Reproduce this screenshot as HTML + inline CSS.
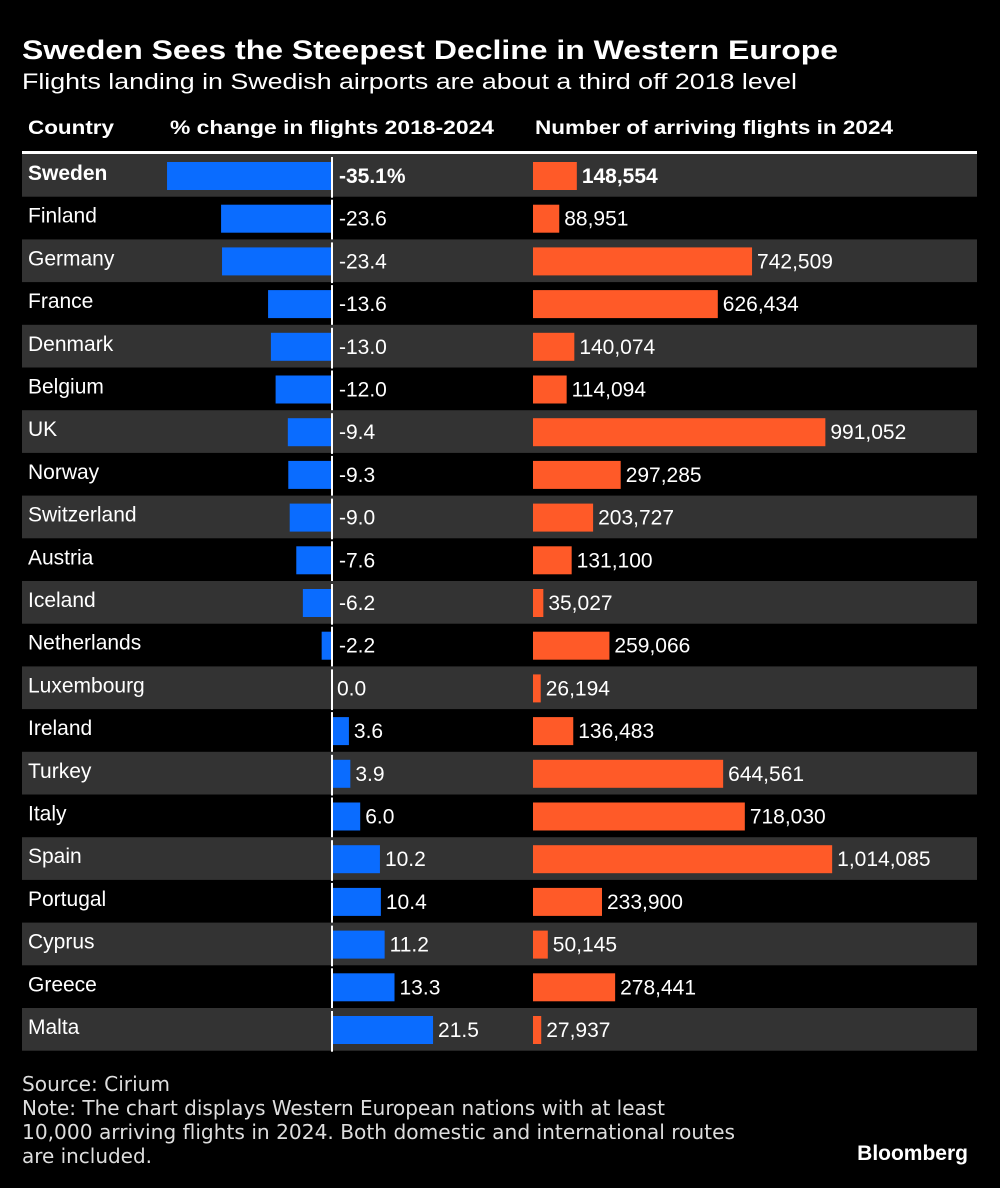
<!DOCTYPE html>
<html><head><meta charset="utf-8"><style>
body{margin:0;background:#000;width:1000px;height:1188px;overflow:hidden;font-family:"Liberation Sans",sans-serif;color:#fff}
svg{position:absolute;left:0;top:0}
</style></head><body>
<svg width="1000" height="1188">
<text x="22" y="59" font-size="27" font-weight="bold" fill="#fff" textLength="816" lengthAdjust="spacingAndGlyphs">Sweden Sees the Steepest Decline in Western Europe</text>
<text x="22" y="89" font-size="22" fill="#fff" textLength="775" lengthAdjust="spacingAndGlyphs">Flights landing in Swedish airports are about a third off 2018 level</text>
<text x="28" y="134" font-size="19" font-weight="bold" fill="#fff" textLength="86" lengthAdjust="spacingAndGlyphs">Country</text>
<text x="170" y="134" font-size="19" font-weight="bold" fill="#fff" textLength="324" lengthAdjust="spacingAndGlyphs">% change in flights 2018-2024</text>
<text x="535" y="134" font-size="19" font-weight="bold" fill="#fff" textLength="358" lengthAdjust="spacingAndGlyphs">Number of arriving flights in 2024</text>
<rect x="22" y="151" width="955" height="3" fill="#fff"/>
<g id="rows"></g>
<text x="22" y="1091" font-size="20" fill="#ddd" textLength="148" lengthAdjust="spacingAndGlyphs" font-family="'DejaVu Sans Condensed','DejaVu Sans',sans-serif">Source: Cirium</text>
<text x="22" y="1115" font-size="20" fill="#ddd" textLength="643" lengthAdjust="spacingAndGlyphs" font-family="'DejaVu Sans Condensed','DejaVu Sans',sans-serif">Note: The chart displays Western European nations with at least</text>
<text x="22" y="1139" font-size="20" fill="#ddd" textLength="713" lengthAdjust="spacingAndGlyphs" font-family="'DejaVu Sans Condensed','DejaVu Sans',sans-serif">10,000 arriving flights in 2024. Both domestic and international routes</text>
<text x="22" y="1163" font-size="20" fill="#ddd" textLength="130" lengthAdjust="spacingAndGlyphs" font-family="'DejaVu Sans Condensed','DejaVu Sans',sans-serif">are included.</text>
<text x="968" y="1160" font-size="21" font-weight="bold" fill="#fff" text-anchor="end">Bloomberg</text>
</svg>
<script>
const countries=["Sweden","Finland","Germany","France","Denmark","Belgium","UK","Norway","Switzerland","Austria","Iceland","Netherlands","Luxembourg","Ireland","Turkey","Italy","Spain","Portugal","Cyprus","Greece","Malta"];
const pctChange=[-35.1,-23.6,-23.4,-13.6,-13.0,-12.0,-9.4,-9.3,-9.0,-7.6,-6.2,-2.2,0.0,3.6,3.9,6.0,10.2,10.4,11.2,13.3,21.5];
const flights=[148554,88951,742509,626434,140074,114094,991052,297285,203727,131100,35027,259066,26194,136483,644561,718030,1014085,233900,50145,278441,27937];
const NS="http://www.w3.org/2000/svg";
const g=document.getElementById('rows');
const top0=154, rowH=42.7, zeroX=332, pxPct=4.7, flX=533, pxFl=0.000295;
const xPct=v=>zeroX+v*pxPct;
const wFl=v=>v*pxFl;
function mk(tag,attrs){const e=document.createElementNS(NS,tag);for(const k in attrs)e.setAttribute(k,attrs[k]);g.appendChild(e);return e;}
countries.forEach((c,i)=>{
  const y=top0+i*rowH;
  if(i%2===0){const bg=mk('rect',{x:22,y:y,width:955,height:rowH,fill:'#333'});
    
    }
  const bold=i===0?'bold':'normal';
  const t=mk('text',{x:28,y:y+26,'font-size':21,'font-weight':bold,fill:'#fff'});t.textContent=c;
  
  
  const v=pctChange[i];
  const x0=Math.min(xPct(v),zeroX), x1=Math.max(xPct(v),zeroX);
  const b=mk('rect',{x:x0,y:y+8,width:Math.max(x1-x0,0),height:28,fill:'#0a6cff'});
  
  
  const z=mk('rect',{x:zeroX-1,y:y+3,width:2,height:rowH-2,fill:'#fff'});
  
  
  const lx=v<0?zeroX+7:Math.max(x1,zeroX)+5;
  const lt=mk('text',{x:lx,y:y+29,'font-size':21,'font-weight':bold,fill:'#fff'});
  lt.textContent=i===0?v.toFixed(1)+'%':v.toFixed(1);
  
  
  const fw=wFl(flights[i]);
  const ob=mk('rect',{x:flX,y:y+8,width:fw,height:28,fill:'#ff5a28'});
  
  
  const ft=mk('text',{x:flX+fw+5,y:y+29,'font-size':21,'font-weight':bold,fill:'#fff'});
  ft.textContent=flights[i].toLocaleString('en-US');
  
  
});
</script>
</body></html>
